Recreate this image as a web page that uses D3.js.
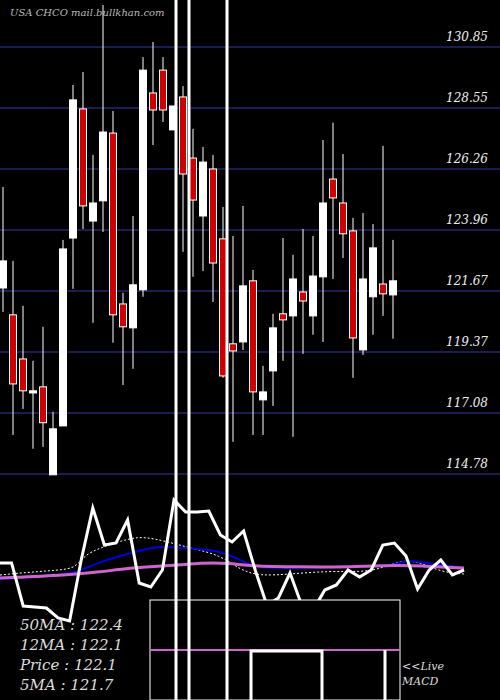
<!DOCTYPE html>
<html>
<head>
<meta charset="utf-8">
<script src="https://cdn.jsdelivr.net/npm/d3@7"></script>
<style>
  body { margin: 0; background: #000; }
  text { font-family: "DejaVu Serif", "Liberation Serif", serif; font-style: italic; }
</style>
</head>
<body>
<div id="chart"></div>
<script>
// candles: open, high, low, close
let opens  = [121.78,120.77,119.11,117.83,118.06,114.75,116.59,123.66,128.52,124.30,125.06,127.61,121.18,120.28,121.71,129.12,129.98,127.73,128.97,126.67,124.49,126.26,123.63,119.68,119.75,122.05,117.57,118.66,120.81,120.73,121.63,120.73,122.20,125.88,124.98,123.93,119.45,121.45,121.93,121.52]
let highs  = [125.58,122.80,121.11,119.04,120.32,117.12,123.59,129.42,129.91,126.79,132.43,128.44,121.60,124.49,130.47,131.04,130.47,128.63,129.38,127.77,127.09,126.79,124.83,123.74,124.87,122.46,118.85,120.81,123.66,123.03,124.00,123.74,127.35,128.00,126.82,124.42,124.60,124.19,127.13,123.59]
let lows   = [120.88,116.25,117.23,115.73,115.80,114.75,116.59,121.75,124.00,120.47,123.89,119.72,118.13,118.74,121.45,127.16,128.03,127.73,123.14,122.20,122.42,121.25,118.40,115.99,119.45,116.25,116.25,117.34,119.04,116.18,119.30,120.02,119.75,122.12,122.91,118.40,119.26,120.02,120.73,119.87]
let closes = [122.80,118.17,117.91,117.91,116.71,116.48,123.25,128.86,124.87,124.98,127.65,120.77,120.32,121.90,129.98,128.48,128.48,128.63,126.07,125.09,126.52,122.72,118.47,119.41,121.86,117.87,117.87,120.28,120.58,122.12,121.29,122.23,124.98,125.17,123.82,119.90,122.12,123.29,121.56,122.05]
let priceTicks = [130.85,128.55,126.26,123.96,121.67,119.37,117.08,114.78]

// lower panel indicator levels (index, level)
let fastLine = [62,62,19,18,17,7,4,65,117,80,82,105,42,38,55,125,113,113,114,90,83,94,55,20,27,52,20,15,35,40,55,48,55,80,82,69,36,55,65,50,55]
let blueLine = [[0,46],[3.4,48],[6,51],[7,55],[8.6,63],[11.2,72],[13,77],[14.2,79],[15.5,77],[17.2,76],[19,74],[20.7,65],[22,58],[23.7,57],[25.9,57],[28.4,58],[32.8,59],[34,60],[35,65],[36.2,63],[38,60],[40,57]]
let pinkLine = [[0,47],[6,50],[8.6,53],[11.2,57],[13.8,59],[15.5,60],[17.2,62],[19.8,62],[21.5,59],[25.9,58],[30,58],[34.5,60],[36.2,59],[40,57]]
let dotLine  = [[0,50],[1.7,52],[5.2,55],[6.5,57],[7.3,70],[8.6,77],[11.2,87],[12.5,88],[14.2,84],[16.4,77],[19,70],[20.7,55],[22.4,49],[25,51],[28.4,54],[31,53],[32.8,56],[34.5,65],[36.2,63],[38,53],[40,51]]
let maLabels = ["50MA : 122.4", "12MA : 122.1", "Price   : 122.1", "5MA : 121.7"]

let width = 500, height = 700

let svg = d3.select("#chart").append("svg")
    .attr("width", width).attr("height", height)
    .style("background", "#000")

let x = d3.scaleLinear().domain([0, 39]).range([3, 393])
let y = d3.scaleLinear().domain([114.78, 130.85]).range([474, 47])

svg.append("g").selectAll("line").data(priceTicks).enter().append("line")
    .attr("x1", 0).attr("x2", width)
    .attr("y1", d => y(d)).attr("y2", d => y(d))
    .attr("stroke", "#1c1c50").attr("stroke-width", 2)
svg.append("g").selectAll("text").data(priceTicks).enter().append("text")
    .attr("x", 488).attr("y", d => y(d) - 6)
    .attr("text-anchor", "end").attr("fill", "#eee").attr("font-size", 12)
    .text(d => d.toFixed(2))

svg.append("text").attr("x", 10).attr("y", 16)
    .attr("fill", "#bbb").attr("font-size", 10)
    .text("USA CHCO mail.bullkhan.com")

let idx = d3.range(opens.length)
let candles = svg.append("g")
candles.selectAll(".wick").data(idx).enter().append("line")
    .attr("x1", i => x(i)).attr("x2", i => x(i))
    .attr("y1", i => y(highs[i])).attr("y2", i => y(lows[i]))
    .attr("stroke", "#fff").attr("stroke-width", 1)
candles.selectAll(".body").data(idx).enter().append("rect")
    .attr("x", i => x(i) - 3.5).attr("width", 7)
    .attr("y", i => y(Math.max(opens[i], closes[i])))
    .attr("height", i => Math.max(2, Math.abs(y(opens[i]) - y(closes[i]))))
    .attr("fill", i => closes[i] >= opens[i] ? "#fff" : "#cc0000")
    .attr("stroke", "#fff").attr("stroke-width", 1)

// lower panel
let x2 = d3.scaleLinear().domain([0, 40]).range([0, 464])
let y2 = d3.scaleLinear().domain([0, 125]).range([625, 500])

let smooth = d3.line().x(d => x2(d[0])).y(d => y2(d[1])).curve(d3.curveBasis)
svg.append("path").attr("d", smooth(dotLine)).attr("fill", "none")
    .attr("stroke", "#fff").attr("stroke-width", 1).attr("stroke-dasharray", "2,2")
svg.append("path").attr("d", smooth(blueLine)).attr("fill", "none")
    .attr("stroke", "#0000dd").attr("stroke-width", 2)
svg.append("path").attr("d", smooth(pinkLine)).attr("fill", "none")
    .attr("stroke", "#cc66cc").attr("stroke-width", 3)
svg.append("path")
    .attr("d", d3.line().x((d, i) => x2(i)).y(d => y2(d))(fastLine))
    .attr("fill", "none").attr("stroke", "#fff").attr("stroke-width", 3)

// MACD box
svg.append("rect").attr("x", 150).attr("y", 600).attr("width", 250).attr("height", 100)
    .attr("fill", "#000").attr("stroke", "#fff").attr("stroke-width", 1)
svg.append("line").attr("x1", 150).attr("x2", 400).attr("y1", 650).attr("y2", 650)
    .attr("stroke", "#cc66cc").attr("stroke-width", 2)
svg.append("path").attr("d", "M251,700V651H322V700M385,700V650")
    .attr("fill", "none").attr("stroke", "#fff").attr("stroke-width", 3)
svg.append("text").attr("x", 402).attr("y", 670).attr("fill", "#ddd").attr("font-size", 11).text("<<Live")
svg.append("text").attr("x", 402).attr("y", 685).attr("fill", "#ddd").attr("font-size", 11).text("MACD")

// tall marker lines
svg.append("g").selectAll("line").data([176, 189, 227]).enter().append("line")
    .attr("x1", d => d).attr("x2", d => d).attr("y1", 0).attr("y2", height)
    .attr("stroke", "#fff").attr("stroke-width", 3)

svg.append("g").selectAll("text").data(maLabels).enter().append("text")
    .attr("x", 20).attr("y", (d, i) => 630 + i * 20)
    .attr("fill", "#ddd").attr("font-size", 15)
    .text(d => d)
</script>
</body>
</html>
